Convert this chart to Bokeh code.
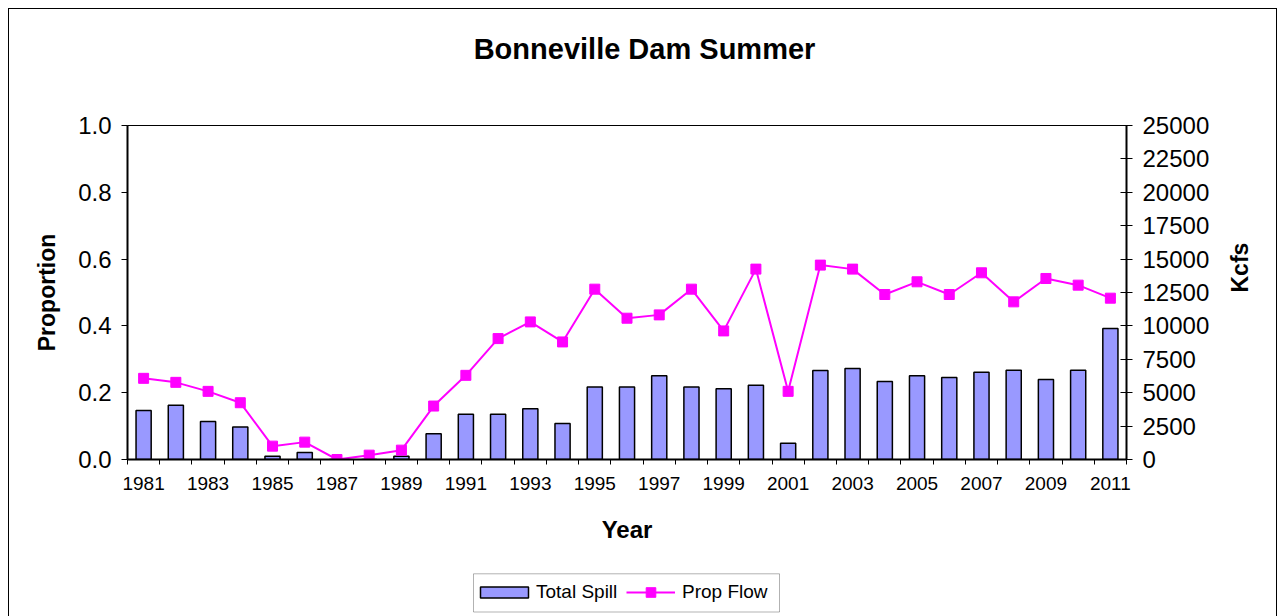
import math
from bokeh.plotting import figure
from bokeh.layouts import column
from bokeh.models import (Range1d, LinearAxis, FixedTicker, PrintfTickFormatter,
                          Legend, LegendItem, Label, BoxAnnotation)
from bokeh.embed import file_html
from bokeh.resources import INLINE

# ---- data ----
years = list(range(1981, 2012))
total_spill = [3670, 4060, 2850, 2440, 250, 520, 0, 0, 250, 1920,
               3390, 3390, 3790, 2700, 5430, 5430, 6260, 5430, 5290, 5560,
               1220, 6660, 6810, 5840, 6260, 6140, 6530, 6680, 5990, 6680, 9800]
prop_flow = [0.243, 0.231, 0.204, 0.170, 0.040, 0.052, 0.000, 0.013, 0.028, 0.160,
             0.252, 0.362, 0.412, 0.352, 0.510, 0.423, 0.433, 0.510, 0.385, 0.570,
             0.204, 0.582, 0.570, 0.494, 0.532, 0.494, 0.559, 0.472, 0.542, 0.522, 0.483]
x_tick_years = list(range(1981, 2012, 2))
left_ticks = [0.0, 0.2, 0.4, 0.6, 0.8, 1.0]
right_ticks = list(range(0, 25001, 2500))

FONT = "Liberation Sans"
W = 1267
BAR_COLOR = "#9999FF"
LINE_COLOR = "#FF00FF"
# page-pixel span of the (aligned) plot frames
FRAME_L, FRAME_R = 127, 1126


def strip(height):
    f = figure(width=W, height=height, output_backend="svg", toolbar_location=None,
               x_range=Range1d(FRAME_L, FRAME_R), y_range=Range1d(0, height),
               min_border=0, x_axis_location=None, y_axis_location=None)
    f.xgrid.visible = False
    f.ygrid.visible = False
    f.outline_line_color = None
    return f


# ---- title strip ----
p0 = strip(80)
p0.add_layout(Label(x=644, y=41, text="Bonneville Dam Summer",
                    text_font=FONT, text_font_size="29px", text_font_style="bold",
                    text_color="black", text_align="center", text_baseline="middle"))

# ---- main chart ----
p = figure(width=W, height=471, output_backend="svg", toolbar_location=None,
           x_range=Range1d(1980.5, 2011.5), y_range=Range1d(0, 1),
           min_border_left=118, min_border_right=150, min_border_top=36,
           min_border_bottom=101)
p.extra_y_ranges = {"kcfs": Range1d(0, 25000)}
p.xgrid.visible = False
p.ygrid.visible = False
p.outline_line_color = "black"
p.outline_line_width = 1
p.outline_line_alpha = 1

bars = p.vbar(x=years, top=total_spill, width=0.47, y_range_name="kcfs",
              fill_color=BAR_COLOR, line_color="black", line_width=1.5)
ln = p.line(years, prop_flow, line_color=LINE_COLOR, line_width=2)
sq = p.scatter(years, prop_flow, marker="square", size=10,
               fill_color=LINE_COLOR, line_color=LINE_COLOR)


def style_axis(ax, tick_size):
    ax.axis_line_color = "black"
    ax.major_tick_line_color = "black"
    ax.minor_tick_line_color = "black"
    ax.axis_line_width = 2
    ax.major_label_text_font = FONT
    ax.major_label_text_font_size = tick_size
    ax.major_label_text_color = "black"
    ax.axis_label_text_font = FONT
    ax.axis_label_text_font_size = "23px"
    ax.axis_label_text_font_style = "bold"
    ax.axis_label_text_color = "black"


xa = p.xaxis[0]
style_axis(xa, "19px")
xa.ticker = FixedTicker(ticks=x_tick_years,
                        minor_ticks=[y + 0.5 for y in range(1980, 2012)])
xa.major_tick_out = 0
xa.major_tick_in = 0
xa.minor_tick_out = 5
xa.minor_tick_in = 0
xa.major_label_standoff = 12
xa.axis_label = "Year"
xa.axis_label_text_font_size = "24px"
xa.axis_label_standoff = 23

ya = p.yaxis[0]
style_axis(ya, "24px")
ya.ticker = FixedTicker(ticks=left_ticks)
ya.formatter = PrintfTickFormatter(format="%.1f")
ya.major_tick_out = 6
ya.major_tick_in = 0
ya.minor_tick_out = 0
ya.minor_tick_in = 0
ya.major_label_standoff = 10
ya.axis_label = "Proportion"
ya.axis_label_standoff = 15

ra = LinearAxis(y_range_name="kcfs", ticker=FixedTicker(ticks=right_ticks),
                axis_label="Kcfs")
style_axis(ra, "24px")
ra.major_tick_out = 6
ra.major_tick_in = 6
ra.minor_tick_out = 0
ra.minor_tick_in = 0
ra.major_label_standoff = 10
ra.axis_label_standoff = 28
ra.axis_label_orientation = math.pi / 2
p.add_layout(ra, "right")

# ---- legend strip (hidden renderers only supply the legend swatches) ----
p2 = strip(56)
lb = p2.vbar(x=years, top=total_spill, width=0.47, fill_color=BAR_COLOR,
             line_color="black", line_width=1.5, visible=False)
ll = p2.line(years, prop_flow, line_color=LINE_COLOR, line_width=2, visible=False)
ls = p2.scatter(years, prop_flow, marker="square", fill_color=LINE_COLOR,
                line_color=LINE_COLOR, visible=False)

common = dict(orientation="horizontal", label_text_font=FONT,
              label_text_font_size="19px", label_text_color="black",
              padding=0, margin=0, border_line_color=None,
              background_fill_alpha=0, inactive_fill_alpha=0)
leg1 = Legend(items=[LegendItem(label="Total Spill", renderers=[lb])],
              location=(474 - FRAME_L, 13), glyph_width=60, glyph_height=14,
              label_height=14, label_standoff=2, **common)
leg2 = Legend(items=[LegendItem(label="Prop Flow", renderers=[ll, ls])],
              location=(626 - FRAME_L, 12), glyph_width=49, glyph_height=24,
              label_height=24, label_standoff=7, **common)
p2.add_layout(leg1, "center")
p2.add_layout(leg2, "center")
p2.add_layout(BoxAnnotation(left=473, right=779, bottom=4.5, top=42.7,
                            fill_alpha=0, line_color="black", line_width=1))

layout = column(p0, p, p2, spacing=0)
layout.styles = {"margin-left": "8px", "margin-top": "8px",
                 "border-top": "1px solid black", "border-left": "1px solid black",
                 "border-right": "1px solid black"}

open("out.html", "w").write(file_html(layout, INLINE))
